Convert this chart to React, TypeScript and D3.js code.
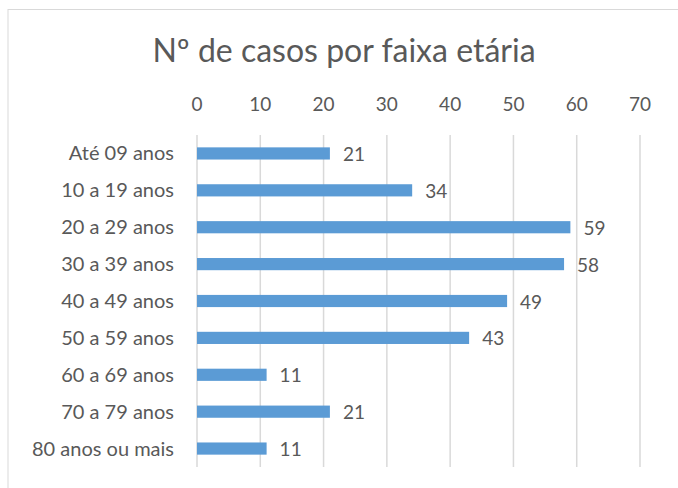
import * as d3 from "d3";

const categories = [
  "Até 09 anos",
  "10 a 19 anos",
  "20 a 29 anos",
  "30 a 39 anos",
  "40 a 49 anos",
  "50 a 59 anos",
  "60 a 69 anos",
  "70 a 79 anos",
  "80 anos ou mais",
];
const casos = [21, 34, 59, 58, 49, 43, 11, 21, 11];
const xTicks = [0, 10, 20, 30, 40, 50, 60, 70];

const width = 678;
const height = 488;
const font = "Lato, 'Open Sans', sans-serif";
const textColor = "#595959";

export default function App() {
  const x = d3.scaleLinear().domain([0, 70]).range([197, 640]);
  const y = d3
    .scaleBand<string>()
    .domain(categories)
    .range([135, 467])
    .paddingInner(0.67)
    .paddingOuter(0.335);

  return (
    <svg
      width={width}
      height={height}
      style={{ position: "fixed", left: 0, top: 0, background: "#fff" }}
      fontFamily={font}
    >
      {/* chart border, right and bottom edges fall outside the picture */}
      <rect x={8} y={9.5} width={700} height={500} fill="#fff" stroke="#d9d9d9" />
      <text x={344} y={62} textAnchor="middle" fontSize={32} fill={textColor}>
        Nº de casos por faixa etária
      </text>

      {/* gridlines + top axis labels */}
      {xTicks.map((t) => (
        <g key={t}>
          <line x1={x(t)} x2={x(t)} y1={135} y2={467} stroke="#d9d9d9" strokeWidth={1.5} />
          <text x={x(t)} y={111} textAnchor="middle" fontSize={19} fill={textColor}>
            {t}
          </text>
        </g>
      ))}

      {categories.map((c, i) => {
        const yc = (y(c) ?? 0) + y.bandwidth() / 2;
        return (
          <g key={c}>
            <text x={174} y={yc + 7} textAnchor="end" fontSize={20} fill={textColor}>
              {c}
            </text>
            <rect
              x={x(0)}
              y={y(c)}
              width={x(casos[i]) - x(0)}
              height={y.bandwidth()}
              fill="#5b9bd5"
            />
            <text x={x(casos[i]) + 13} y={yc + 7.5} fontSize={19} fill={textColor}>
              {casos[i]}
            </text>
          </g>
        );
      })}
    </svg>
  );
}
